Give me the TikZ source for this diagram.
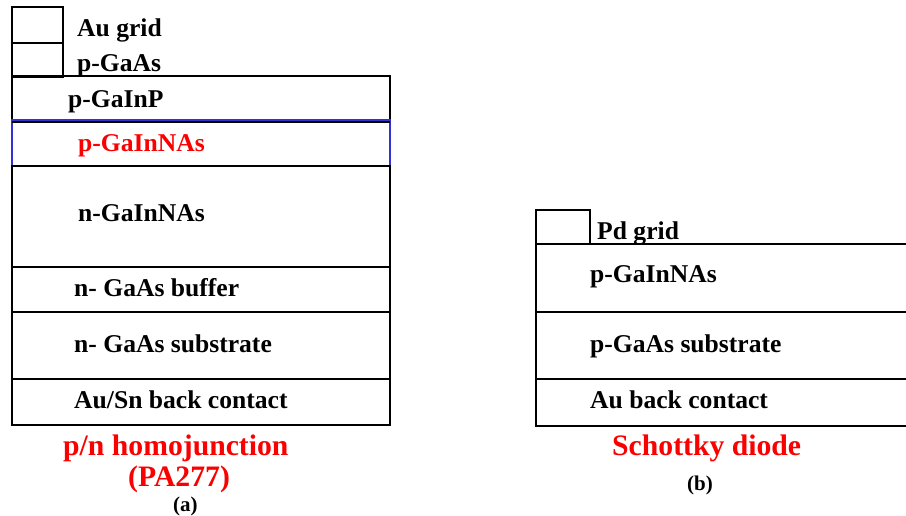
\documentclass[tikz,border=0pt]{standalone}
\usepackage{fontspec}
\setmainfont{Liberation Serif}
\definecolor{lblue}{RGB}{50,50,210}
\definecolor{tred}{RGB}{250,0,0}
\tikzset{
  layer/.style={draw=black, line width=2pt},
  thin layer/.style={draw=lblue, line width=1.2pt},
  lbl/.style={anchor=base west, inner sep=0pt, font=\fontsize{25.6}{29}\selectfont\bfseries},
  rlbl/.style={lbl, text=tred},
  title/.style={anchor=base west, inner sep=0pt, text=tred, font=\fontsize{29.7}{34}\selectfont\bfseries},
  sub/.style={anchor=base west, inner sep=0pt, font=\fontsize{21}{25}\selectfont\bfseries},
}
\begin{document}
\begin{tikzpicture}[x=1pt,y=-1pt]
\useasboundingbox (0,0) rectangle (906,516);
% ---- (a) p/n homojunction ----
\draw[layer] (12,7) rectangle (63,43);
\draw[layer] (12,43) rectangle (63,77);
\draw[layer] (12,76) rectangle (390,121);
\draw[thin layer] (12,120) rectangle (390,166);
\draw[layer] (12,122) -- (390,122);
\draw[layer] (12,166) rectangle (390,267);
\draw[layer] (12,267) rectangle (390,312);
\draw[layer] (12,312) rectangle (390,379);
\draw[layer] (12,379) rectangle (390,425);
\draw[line width=2.6pt] (12,267) -- (389,267);
\draw[line width=2.6pt] (12,379) -- (389,379);

\node[lbl] (augrid) at (77,37) {Au grid};
\node[lbl] (pgaas) at (77,72) {p-GaAs};
\node[lbl] (pgainp) at (68,108) {p-GaInP};
\node[rlbl] (pgainnas) at (78,152) {p-GaInNAs};
\node[lbl] (ngainnas) at (78,222) {n-GaInNAs};
\node[lbl] (buffer) at (74,296) {n- GaAs buffer};
\node[lbl] (nsub) at (74,352) {n- GaAs substrate};
\node[lbl] (ausn) at (74,408) {Au/Sn back contact};
\node[title] (homo) at (63,455) {p/n homojunction};
\node[title] (pa) at (128,486) {(PA277)};
\node[sub] (a) at (173,511) {(a)};

% ---- (b) Schottky diode ----
\draw[layer] (536,210) rectangle (590,244);
\draw[layer] (906,244) -- (536,244) -- (536,426) -- (906,426);
\draw[layer] (536,312) -- (906,312);
\draw[line width=2.6pt] (536,379) -- (906,379);

\node[lbl] (pdgrid) at (597,240) {Pd grid};
\node[lbl] (pgainnasb) at (590,283) {p-GaInNAs};
\node[lbl] (psub) at (590,352) {p-GaAs substrate};
\node[lbl] (aub) at (590,408) {Au back contact};
\node[title] (schottky) at (612,455) {Schottky diode};
\node[sub] (b) at (687,490) {(b)};
\end{tikzpicture}
\end{document}
